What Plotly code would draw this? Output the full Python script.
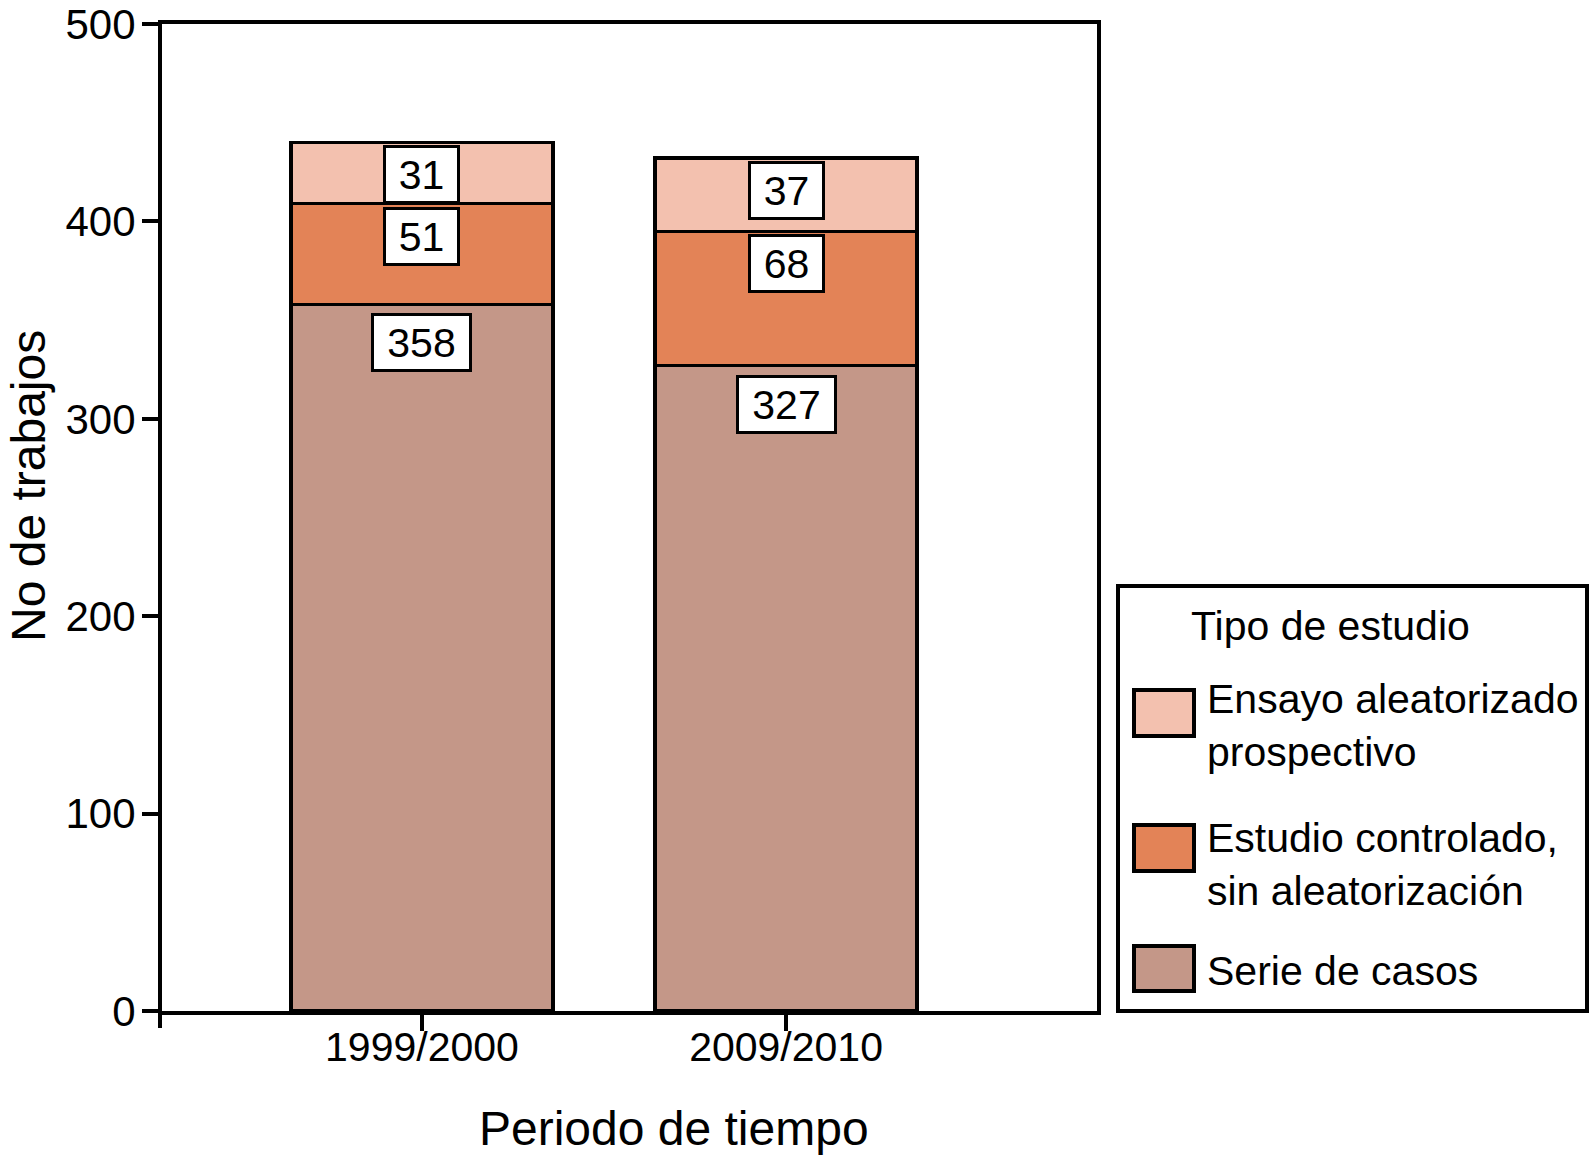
import plotly.graph_objects as go

# ---- data ----
categories = ["1999/2000", "2009/2010"]
series_names = ["Serie de casos", "Estudio controlado, sin aleatorización", "Ensayo aleatorizado prospectivo"]
legend_labels = ["Serie de casos", "Estudio controlado,<br>sin aleatorización", "Ensayo aleatorizado<br>prospectivo"]
serie_casos = [358, 327]
estudio_controlado = [51, 68]
ensayo_aleatorizado = [31, 37]
y_ticks = [0, 100, 200, 300, 400, 500]
series_values = [serie_casos, estudio_controlado, ensayo_aleatorizado]
colors = ["#C49788", "#E38357", "#F3C1AF"]

# ---- layout geometry (pixels) ----
W, H = 1591, 1158
L, R, T, B = 162, 1097, 24, 1011
FONT = "Liberation Sans, Arial, Helvetica, sans-serif"


def px(x):
    return (x - L) / (R - L)


def py(y):
    return (B - y) / (B - T)


fig = go.Figure()
for name, vals, col in zip(series_names, series_values, colors):
    fig.add_trace(go.Bar(
        x=categories, y=vals, name=name, width=0.72,
        marker=dict(color=col, line=dict(color="black", width=3.5)),
        showlegend=False, hoverinfo="skip",
    ))

annotations = []
shapes = []

# value labels
cum = [0] * len(categories)
for si, vals in enumerate(series_values):
    for ci, v in enumerate(vals):
        cum[ci] += v
        annotations.append(dict(
            x=categories[ci], y=cum[ci], xref="x", yref="y",
            text=str(v), showarrow=False, yanchor="top",
            yshift=-9 if si == 0 else -3,
            font=dict(family=FONT, size=41, color="black"),
            bgcolor="white", bordercolor="black", borderwidth=3, borderpad=0,
            width=24 * len(str(v)) + 23, height=53,
        ))

# axis titles
annotations.append(dict(x=px(674), y=py(1128), xref="paper", yref="paper",
                        text="Periodo de tiempo", showarrow=False,
                        xanchor="center", yanchor="middle",
                        font=dict(family=FONT, size=48, color="black")))
annotations.append(dict(x=px(28), y=py(486), xref="paper", yref="paper",
                        text="No de trabajos", showarrow=False, textangle=-90,
                        xanchor="center", yanchor="middle",
                        font=dict(family=FONT, size=48, color="black")))

# origin tick below the y axis
shapes.append(dict(type="line", xref="paper", yref="paper",
                   x0=px(L - 2), x1=px(L - 2), y0=py(B + 2), y1=py(B + 17),
                   line=dict(color="black", width=4)))

# custom legend box
shapes.append(dict(type="rect", xref="paper", yref="paper",
                   x0=px(1118), x1=px(1587), y0=py(1011), y1=py(586),
                   line=dict(color="black", width=4), fillcolor="white", layer="below"))
annotations.append(dict(x=px(1189), y=py(626), xref="paper", yref="paper",
                        text="Tipo de estudio", showarrow=False,
                        xanchor="left", yanchor="middle",
                        font=dict(family=FONT, size=41, color="black")))

legend_order = [2, 1, 0]
sw_y = [(690, 736), (825, 871), (946, 991)]
txt_y = [725, 864, 971]
for k, si in enumerate(legend_order):
    y0, y1 = sw_y[k]
    shapes.append(dict(type="rect", xref="paper", yref="paper",
                       x0=px(1134), x1=px(1194), y0=py(y1), y1=py(y0),
                       line=dict(color="black", width=4), fillcolor=colors[si]))
    annotations.append(dict(x=px(1205), y=py(txt_y[k]), xref="paper", yref="paper",
                            text=legend_labels[si], showarrow=False, align="left",
                            xanchor="left", yanchor="middle",
                            font=dict(family=FONT, size=41, color="black")))

fig.update_layout(
    width=W, height=H,
    margin=dict(l=L, r=W - R, t=T, b=H - B, pad=0, autoexpand=False),
    barmode="stack",
    plot_bgcolor="white", paper_bgcolor="white",
    font=dict(family=FONT, size=41, color="black"),
    showlegend=False,
    annotations=annotations, shapes=shapes,
    xaxis=dict(
        type="category", range=[-0.714, 1.854], automargin=False,
        showline=True, linecolor="black", linewidth=4, mirror=True,
        ticks="outside", ticklen=16, tickwidth=3.5, tickcolor="black",
        showgrid=False, zeroline=False, ticklabelstandoff=-19,
        tickfont=dict(family=FONT, size=41, color="black"),
    ),
    yaxis=dict(
        range=[0, 500], tickvals=y_ticks, automargin=False,
        showline=True, linecolor="black", linewidth=4, mirror=True,
        ticks="outside", ticklen=16, tickwidth=3.5, tickcolor="black",
        showgrid=False, zeroline=False, ticklabelstandoff=-2,
        ticklabeloverflow="allow",
        tickfont=dict(family=FONT, size=42, color="black"),
    ),
)

fig.write_html(
    "out.html",
    config={"displayModeBar": False},
    post_script="document.body.style.margin='0';document.body.style.overflow='hidden';",
)
